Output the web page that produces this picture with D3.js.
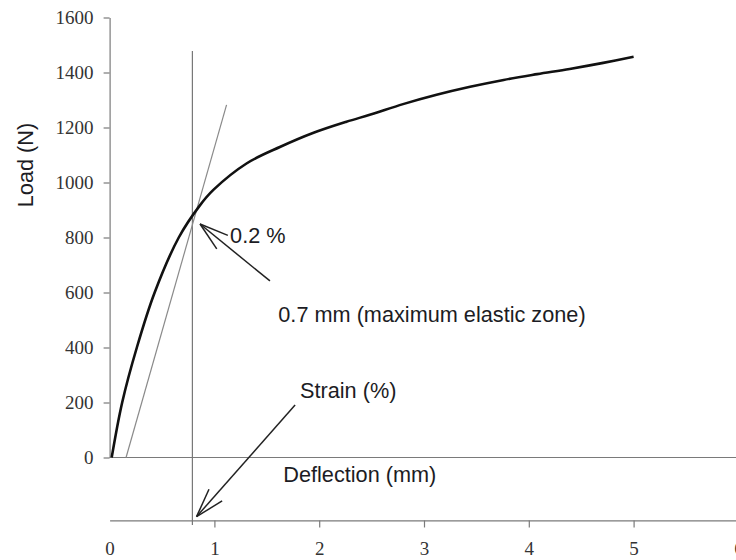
<!DOCTYPE html>
<html>
<head>
<meta charset="utf-8">
<script src="https://cdn.jsdelivr.net/npm/d3@7"></script>
<style>
  body { margin: 0; background: #fff; }
  .axis path, .axis line { stroke: #7a7a7a; stroke-width: 1.2; }
  .note { font-family: "Liberation Sans", Arial, sans-serif; font-size: 21.7px; fill: #1c1c24; }
</style>
</head>
<body>
<div class="chart"></div>
<script>
// Data
const deflection = [0.02, 0.12, 0.26, 0.43, 0.66, 0.86, 0.99, 1.31, 1.63, 1.94, 2.26, 2.49, 2.8, 3.12, 3.44, 3.76, 4.08, 4.39, 4.71, 5.0];
const load = [0, 200, 400, 600, 800, 916, 973, 1070, 1130, 1180, 1221, 1247, 1285, 1319, 1348, 1373, 1394, 1413, 1435, 1457];
const offsetLine = [[0.157, 0], [1.116, 1282]];
const elasticLimit = 0.79;
const xTicks = [0, 1, 2, 3, 4, 5, 6];
const yTicks = [0, 200, 400, 600, 800, 1000, 1200, 1400, 1600];
const strainAxisLoad = -229;

// Define Chart Sizes
const w = 736;
const h = 560;

const svg = d3
  .select(".chart")
  .append("svg")
  .attr("width", w)
  .attr("height", h);

// SCALES //
const xScale = d3.scaleLinear().domain([0, 6]).range([109.6, 738.4]);
const yScale = d3.scaleLinear().domain([0, 1600]).range([457.5, 17.5]);

// AXIS //

// Y Axis
const yAxis = svg
  .append("g")
  .attr("class", "axis")
  .attr("transform", `translate(${xScale(0)}, 0)`)
  .call(
    d3.axisLeft(yScale).tickValues(yTicks).tickFormat(d3.format("d"))
      .tickSize(6).tickSizeOuter(0).tickPadding(10)
  );

// Zero Line
svg
  .append("line")
  .attr("x1", xScale(0))
  .attr("x2", xScale(6))
  .attr("y1", yScale(0))
  .attr("y2", yScale(0))
  .attr("stroke", "#7a7a7a")
  .attr("stroke-width", 1.2);

// Bottom (Strain) Axis
const xAxis = svg
  .append("g")
  .attr("class", "axis")
  .attr("transform", `translate(0, ${yScale(strainAxisLoad)})`)
  .call(
    d3.axisBottom(xScale).tickValues(xTicks).tickFormat(d3.format("d"))
      .tickSize(7).tickSizeOuter(0).tickPadding(14)
  );
xAxis.selectAll(".tick").filter((d) => d === 0).select("line").remove();

// Serif Tick Labels
[xAxis, yAxis].forEach((ax) => {
  ax.attr("font-family", "'Liberation Serif', 'Times New Roman', serif")
    .attr("font-size", 19)
    .selectAll("text")
    .attr("fill", "#333");
});

// Elastic Limit Line
svg
  .append("line")
  .attr("x1", xScale(elasticLimit))
  .attr("x2", xScale(elasticLimit))
  .attr("y1", yScale(1478))
  .attr("y2", yScale(-245))
  .attr("stroke", "#777")
  .attr("stroke-width", 1.2);

// Offset Line
svg
  .append("path")
  .datum(offsetLine)
  .attr("d", d3.line().x((d) => xScale(d[0])).y((d) => yScale(d[1])))
  .attr("stroke", "#8a8a8a")
  .attr("stroke-width", 1.2)
  .attr("fill", "none");

// Load Curve
svg
  .append("path")
  .datum(deflection.map((d, i) => [d, load[i]]))
  .attr("d", d3.line().curve(d3.curveCatmullRom.alpha(0.5)).x((d) => xScale(d[0])).y((d) => yScale(d[1])))
  .attr("stroke", "#111")
  .attr("stroke-width", 2.6)
  .attr("stroke-linejoin", "round")
  .attr("fill", "none");

// ARROWS //
function arrow(from, to) {
  const x0 = xScale(from[0]), y0 = yScale(from[1]);
  const x1 = xScale(to[0]), y1 = yScale(to[1]);
  const a = Math.atan2(y0 - y1, x0 - x1);
  const len = 30, spread = (17 * Math.PI) / 180;
  const g = svg.append("g").attr("stroke", "#222").attr("stroke-width", 1.5).attr("fill", "none");
  g.append("line").attr("x1", x0).attr("y1", y0).attr("x2", x1).attr("y2", y1);
  [-spread, spread].forEach((s) => {
    g.append("line")
      .attr("x1", x1)
      .attr("y1", y1)
      .attr("x2", x1 + len * Math.cos(a + s))
      .attr("y2", y1 + len * Math.sin(a + s));
  });
}
arrow([1.53, 642], [0.863, 849]);
arrow([1.77, 191], [0.83, -215]);

// LABELS //
const notes = [
  { text: "0.2 %", x: 1.15, y: 779 },
  { text: "0.7 mm (maximum elastic zone)", x: 1.61, y: 494 },
  { text: "Strain (%)", x: 1.817, y: 218 },
  { text: "Deflection (mm)", x: 1.657, y: -88 }
];
svg
  .selectAll(".note")
  .data(notes)
  .enter()
  .append("text")
  .attr("class", "note")
  .attr("x", (d) => xScale(d.x))
  .attr("y", (d) => yScale(d.y))
  .text((d) => d.text);

// Y Axis Label
svg
  .append("text")
  .attr("class", "note")
  .attr("text-anchor", "middle")
  .attr("transform", `translate(33, 165) rotate(-90)`)
  .text("Load (N)");
</script>
</body>
</html>
